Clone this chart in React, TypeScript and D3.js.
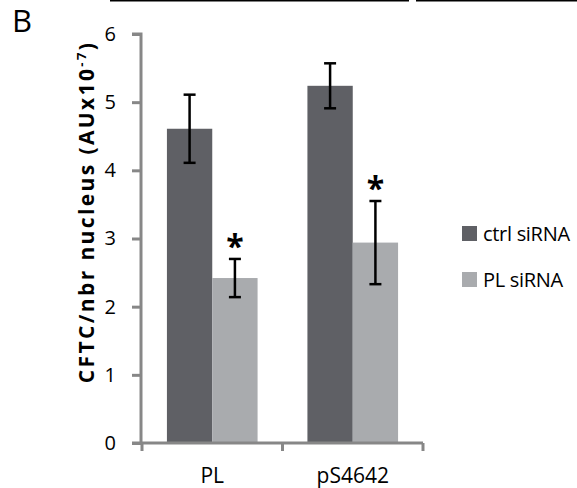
import React, { useEffect, useRef } from 'react';
import * as d3 from 'd3';

const categories = ['PL', 'pS4642'];
const seriesNames = ['ctrl siRNA', 'PL siRNA'];
const ctrlValues = [4.61, 5.24];
const ctrlErrors = [0.5, 0.33];
const plValues = [2.42, 2.94];
const plErrors = [0.28, 0.61];
const significant = [true, true];
const yTicks = [0, 1, 2, 3, 4, 5, 6];

const colors = ['#5f6065', '#a9abae'];
const axisColor = '#878787';
const font = '"Open Sans", Lato, sans-serif';

const App = () => {
  const svgRef = useRef<SVGSVGElement>(null);

  useEffect(() => {
    const svg = d3.select(svgRef.current);
    svg.selectAll('*').remove();

    const x = d3.scaleBand().domain(categories).range([142, 423]);
    const inner = d3.scaleBand().domain(seriesNames).range([0, x.bandwidth()]).paddingOuter(0.55).paddingInner(0);
    const y = d3.scaleLinear().domain([0, 6]).range([443, 34]);

    // fragments of the panel above
    svg.append('line').attr('x1', 110).attr('x2', 409).attr('y1', 0.5).attr('y2', 0.5)
      .attr('stroke', '#000').attr('stroke-width', 2);
    svg.append('line').attr('x1', 416).attr('x2', 577).attr('y1', 0.5).attr('y2', 0.5)
      .attr('stroke', '#000').attr('stroke-width', 2);

    svg.append('text').attr('x', 12).attr('y', 32).text('B')
      .attr('font-family', font).attr('font-size', 31).attr('fill', '#000');

    const rows = categories.map((c, i) => [
      { c, s: seriesNames[0], v: ctrlValues[i], e: ctrlErrors[i], star: false },
      { c, s: seriesNames[1], v: plValues[i], e: plErrors[i], star: significant[i] },
    ]).flat();

    svg.append('g').selectAll('rect').data(rows).join('rect')
      .attr('x', (d) => x(d.c)! + inner(d.s)!)
      .attr('width', inner.bandwidth())
      .attr('y', (d) => y(d.v))
      .attr('height', (d) => y(0) - y(d.v))
      .attr('fill', (d) => colors[seriesNames.indexOf(d.s)]);

    // y axis
    const yAxis = svg.append('g').attr('transform', 'translate(141,0)')
      .call(d3.axisLeft(y).tickValues(yTicks).tickSize(9).tickPadding(16).tickFormat(d3.format('d')));
    yAxis.select('.domain').attr('stroke', axisColor).attr('stroke-width', 3)
      .attr('d', `M-9,${y(6)}H0V${y(0)}`);
    yAxis.selectAll('.tick line').attr('stroke', axisColor).attr('stroke-width', 3);
    yAxis.selectAll('.tick text').attr('font-family', font).attr('font-size', 20).attr('fill', '#000');

    // x axis
    const xg = svg.append('g');
    xg.append('line').attr('x1', 132).attr('x2', 423).attr('y1', y(0)).attr('y2', y(0))
      .attr('stroke', axisColor).attr('stroke-width', 3);
    const bounds = [x(categories[0])!, ...categories.map((c) => x(c)! + x.bandwidth())];
    xg.selectAll('line.t').data(bounds).join('line').attr('class', 't')
      .attr('x1', (d) => d).attr('x2', (d) => d).attr('y1', y(0)).attr('y2', y(0) + 8)
      .attr('stroke', axisColor).attr('stroke-width', 3);
    xg.selectAll('text').data(categories).join('text')
      .attr('x', (d) => x(d)! + x.bandwidth() / 2).attr('y', 483)
      .attr('text-anchor', 'middle').attr('font-family', font).attr('font-size', 21)
      .attr('fill', '#000').text((d) => d);

    // error bars
    const eb = svg.append('g').attr('stroke', '#000').attr('stroke-width', 2.5);
    rows.forEach((d) => {
      const cx = x(d.c)! + inner(d.s)! + inner.bandwidth() / 2;
      eb.append('line').attr('x1', cx).attr('x2', cx).attr('y1', y(d.v + d.e)).attr('y2', y(d.v - d.e));
      [d.v + d.e, d.v - d.e].forEach((v) => {
        eb.append('line').attr('x1', cx - 6).attr('x2', cx + 6).attr('y1', y(v)).attr('y2', y(v));
      });
      if (d.star) {
        svg.append('text').attr('x', cx).attr('y', y(d.v + d.e) - 1)
          .attr('text-anchor', 'middle').attr('font-family', font).attr('font-size', 32)
          .attr('font-weight', 'bold').attr('fill', '#000').text('*');
      }
    });

    // y label, stretched a little to span the same length as the original
    const label = svg.append('text')
      .attr('transform', `translate(94,212) rotate(-90)`)
      .attr('text-anchor', 'middle').attr('font-family', font).attr('font-size', 21)
      .attr('font-weight', 'bold').attr('fill', '#000');
    label.append('tspan').text('CFTC/nbr nucleus (AUx10');
    label.append('tspan').attr('font-size', 13).attr('dy', -8).text('-7');
    label.append('tspan').attr('dy', 8).text(')');
    const len = (label.node() as SVGTextElement).getComputedTextLength();
    if (len > 0 && len < 345) label.attr('letter-spacing', (345 - len) / 27);

    // legend
    const lg = svg.append('g').selectAll('g').data(seriesNames).join('g')
      .attr('transform', (_, i) => `translate(462,${226 + i * 46})`);
    lg.append('rect').attr('width', 15).attr('height', 15).attr('fill', (_, i) => colors[i]);
    lg.append('text').attr('x', 21).attr('y', 15).attr('font-family', font).attr('font-size', 20)
      .attr('letter-spacing', -0.3).attr('fill', '#000').text((d) => d);
  }, []);

  return <svg ref={svgRef} width={577} height={488} style={{ display: 'block', position: 'absolute', left: 0, top: 0 }} />;
};

export default App;
